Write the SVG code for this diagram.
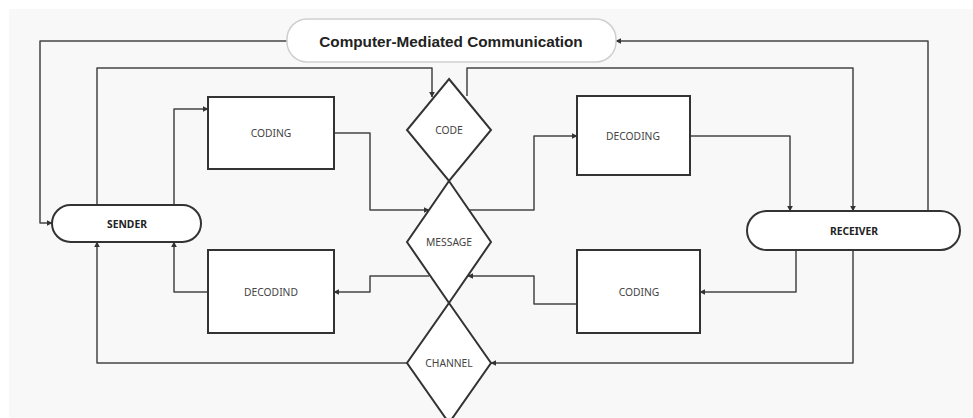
<svg xmlns="http://www.w3.org/2000/svg" width="973" height="418" viewBox="0 0 973 418">
<defs>
<marker id="ah" viewBox="0 0 10 10" refX="9" refY="5" markerWidth="6" markerHeight="6" markerUnits="userSpaceOnUse" orient="auto">
<path d="M0,0 L10,5 L0,10 z" fill="#333"/>
</marker>
<style>
.node{fill:#fff;stroke:#333;stroke-width:2}
.tbox{fill:#fff;stroke:#cfcfcf;stroke-width:1.5}
.conn{fill:none;stroke:#444;stroke-width:1.5;stroke-linejoin:round}
.lbl{font-family:"Noto Sans","Liberation Sans",sans-serif;font-size:10.3px;fill:#444;text-anchor:middle;dominant-baseline:central}
.bold{font-weight:bold;fill:#222}
.title{font-family:"Liberation Sans",Arial,sans-serif;font-size:15.3px;font-weight:bold;fill:#222;text-anchor:middle;dominant-baseline:central}
</style>
</defs>
<rect x="0" y="0" width="973" height="418" fill="#fff"/>
<rect x="9" y="9" width="964" height="409" fill="#f8f8f8"/>

<g id="connectors">
<path class="conn" d="M287,41 H40 V223 H52" marker-end="url(#ah)"/>
<path class="conn" d="M97,205 V68 H432 V97" marker-end="url(#ah)"/>
<path class="conn" d="M467,96 V68 H853 V211" marker-end="url(#ah)"/>
<path class="conn" d="M928,211 V41 H616" marker-end="url(#ah)"/>
<path class="conn" d="M174,205 V109 H208" marker-end="url(#ah)"/>
<path class="conn" d="M334,133 H370 V210 H429" marker-end="url(#ah)"/>
<path class="conn" d="M469,210 H534 V136 H577" marker-end="url(#ah)"/>
<path class="conn" d="M690,136 H790 V211" marker-end="url(#ah)"/>
<path class="conn" d="M796,250 V292 H700" marker-end="url(#ah)"/>
<path class="conn" d="M577,304 H534 V276 H468" marker-end="url(#ah)"/>
<path class="conn" d="M429,276 H370 V292 H334" marker-end="url(#ah)"/>
<path class="conn" d="M208,292 H174 V242" marker-end="url(#ah)"/>
<path class="conn" d="M407,363 H97 V242" marker-end="url(#ah)"/>
<path class="conn" d="M853,250 V363 H491" marker-end="url(#ah)"/>
</g>

<g id="title">
<rect class="tbox" x="287" y="19" width="329" height="43" rx="20"/>
<text class="title" x="451" y="41">Computer-Mediated Communication</text>
</g>
<g id="sender">
<rect class="node" x="52" y="205" width="149" height="37" rx="18.5"/>
<text class="lbl bold" x="127" y="224">SENDER</text>
</g>
<g id="receiver">
<rect class="node" x="747" y="211" width="213" height="39" rx="19.5"/>
<text class="lbl bold" x="854" y="231">RECEIVER</text>
</g>
<g id="coding-top">
<rect class="node" x="208" y="97" width="126" height="72"/>
<text class="lbl" x="271" y="133">CODING</text>
</g>
<g id="decoding-top">
<rect class="node" x="577" y="96" width="113" height="79"/>
<text class="lbl" x="633" y="136">DECODING</text>
</g>
<g id="coding-bottom">
<rect class="node" x="577" y="250" width="123" height="83"/>
<text class="lbl" x="639" y="292">CODING</text>
</g>
<g id="decodind">
<rect class="node" x="208" y="250" width="126" height="83"/>
<text class="lbl" x="271" y="292">DECODIND</text>
</g>
<g id="channel">
<path class="node" d="M449,303 L491,363 L449,423 L407,363 Z"/>
<text class="lbl" x="449" y="363">CHANNEL</text>
</g>
<g id="message">
<path class="node" d="M449,181 L491,242 L449,303 L407,242 Z"/>
<text class="lbl" x="449" y="242">MESSAGE</text>
</g>
<g id="code">
<path class="node" d="M449,79 L491,130 L449,181 L407,130 Z"/>
<text class="lbl" x="449" y="130">CODE</text>
</g>
</svg>
